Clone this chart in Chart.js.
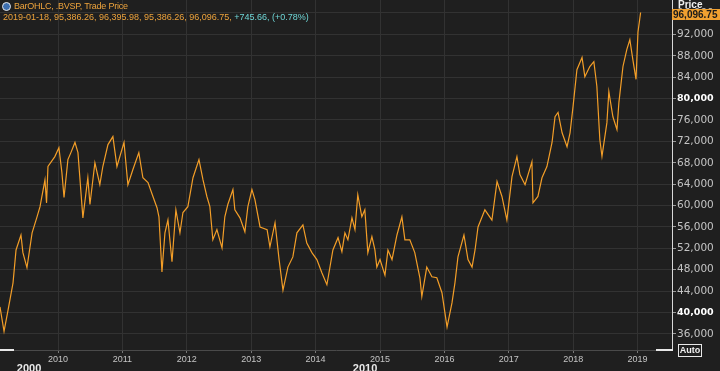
<!DOCTYPE html>
<html>
<head>
<meta charset="utf-8">
<script src="https://cdn.jsdelivr.net/npm/chart.js@4"></script>
<style>
  html, body { margin: 0; padding: 0; background: #1f1f1f; }
  #wrap { position: relative; width: 720px; height: 371px; overflow: hidden; background: #1f1f1f; }
  #wrap canvas { position: absolute; left: 0; top: 0; }
  .hdr { position: absolute; font-family: "Liberation Sans", Arial, sans-serif; font-size: 9px; white-space: nowrap; color: #eda33c; }
  #l1 { left: 14px; top: 1px; letter-spacing: -0.25px; }
  #l2 { left: 3px; top: 12px; }
  #l2 span { color: #6fd6d6; }
  #icon { position: absolute; left: 2px; top: 2px; width: 7px; height: 7px; border: 1px solid #e8e8e8; border-radius: 50%; background: #3d6fb0; }
  #priceLbl { position: absolute; left: 678px; top: -1px; font: bold 10px "Liberation Sans", Arial, sans-serif; color: #f0f0f0; }
  #priceBox { position: absolute; left: 672px; top: 9px; width: 48px; height: 11px; background: #f0a030; font: bold 10px "Liberation Sans", Arial, sans-serif; color: #1a1a1a; line-height: 11px; padding-left: 1px; }
  #auto { position: absolute; left: 678px; top: 344px; width: 22px; height: 11px; border: 1px solid #e8e8e8; font: bold 9px "Liberation Sans", Arial, sans-serif; color: #f0f0f0; line-height: 11px; text-align: center; }
  #scrollL { position: absolute; left: 0; top: 349px; width: 14px; height: 2px; background: #e8e8e8; }
  #scrollR { position: absolute; left: 656px; top: 349px; width: 17px; height: 2px; background: #e8e8e8; }
</style>
</head>
<body>
<div id="wrap">
  <canvas id="chart" width="720" height="371"></canvas>
  <div id="icon"></div>
  <div class="hdr" id="l1">BarOHLC, .BVSP, Trade Price</div>
  <div class="hdr" id="l2">2019-01-18, 95,386.26, 96,395.98, 95,386.26, 96,096.75, <span>+745.66, (+0.78%)</span></div>
  <div id="priceLbl">Price</div>
  <div id="priceBox">96,096.75</div>
  <div id="auto">Auto</div>
  <div id="scrollL"></div>
  <div id="scrollR"></div>
</div>
<script>
// dates and closing values
var dates = [
  "2009-02-06","2009-03-01","2009-03-24","2009-04-21","2009-05-08","2009-06-05","2009-06-16","2009-07-09",
  "2009-08-07","2009-09-04","2009-09-21","2009-10-19","2009-10-28","2009-11-05","2009-12-14","2010-01-06",
  "2010-01-23","2010-02-04","2010-02-26","2010-03-15","2010-04-07","2010-04-24","2010-05-22","2010-06-19",
  "2010-07-01","2010-07-29","2010-08-26","2010-09-12","2010-10-11","2010-11-08","2010-12-01","2011-01-10",
  "2011-02-01","2011-03-01","2011-04-04","2011-04-27","2011-05-26","2011-06-23","2011-07-16","2011-07-27",
  "2011-08-13","2011-08-30","2011-09-16","2011-10-09","2011-10-31","2011-11-23","2011-12-10","2012-01-07",
  "2012-02-05","2012-03-10","2012-04-02","2012-04-24","2012-05-11","2012-05-28","2012-06-20","2012-07-19",
  "2012-08-04","2012-08-21","2012-09-19","2012-09-30","2012-10-29","2012-11-26","2012-12-13","2013-01-05",
  "2013-01-22","2013-02-20","2013-04-01","2013-04-17","2013-05-16","2013-06-08","2013-06-30","2013-07-28",
  "2013-08-25","2013-09-17","2013-10-21","2013-11-12","2013-12-11","2014-01-08","2014-02-06","2014-03-06",
  "2014-04-09","2014-05-08","2014-05-30","2014-06-16","2014-07-03","2014-07-26","2014-08-12","2014-08-28",
  "2014-09-20","2014-10-07","2014-10-24","2014-11-16","2014-12-03","2014-12-14","2015-01-01","2015-01-29",
  "2015-02-15","2015-03-10","2015-04-07","2015-05-05","2015-05-22","2015-06-19","2015-07-17","2015-08-15",
  "2015-08-26","2015-09-23","2015-10-22","2015-11-19","2015-12-18","2016-01-10","2016-01-16","2016-02-13",
  "2016-03-01","2016-03-18","2016-04-21","2016-05-14","2016-06-06","2016-06-23","2016-07-10","2016-08-18",
  "2016-09-27","2016-10-26","2016-11-23","2016-12-21","2017-01-19","2017-02-16","2017-03-05","2017-04-03",
  "2017-05-12","2017-05-18","2017-06-15","2017-07-08","2017-08-05","2017-09-03","2017-09-20","2017-10-07",
  "2017-10-30","2017-11-27","2017-12-14","2017-12-31","2018-01-22","2018-02-20","2018-03-08","2018-04-05",
  "2018-04-28","2018-05-15","2018-06-01","2018-06-13","2018-07-11","2018-07-22","2018-08-14","2018-09-06",
  "2018-09-17","2018-10-10","2018-11-01","2018-11-18","2018-12-05","2018-12-23","2019-01-03","2019-01-18"
];
var prices = [
  41050,36500,40500,45550,51700,54500,51200,48400,
  54900,57900,59800,64800,60500,67300,69150,70800,
  66150,61500,68600,69900,71800,69900,57700,65200,
  60200,68000,63900,67300,71400,72900,67300,71800,
  63900,66700,69900,65200,64300,61700,59600,57900,
  47600,54900,57300,49500,59200,54900,58700,59800,
  65200,68600,64800,61700,59800,53600,55500,52100,
  57900,60200,63000,59200,57700,55100,59800,63000,
  61100,56000,55500,52300,56800,49900,44200,48500,
  50400,54900,56400,53000,51200,49900,47400,45200,
  51700,54000,51400,54900,53600,57700,55500,62000,
  57900,59200,51200,54200,51700,48500,49900,47000,
  51700,49900,54500,57900,53600,53600,51200,46500,
  43000,48500,46700,46500,43700,38600,37300,41800,
  45600,50400,54500,49900,48500,51700,56000,59200,
  57300,64500,61700,57300,65400,69150,65800,63900,
  68200,60500,61700,65200,67300,71800,76600,77400,
  73600,71000,73600,78500,85400,87700,84100,86000,
  86900,82300,72300,69200,75500,81300,76600,74200,
  79300,86000,89200,91000,87300,83600,92400,96096.75
];

var yearTicks = [2010, 2011, 2012, 2013, 2014, 2015, 2016, 2017, 2018, 2019];
var priceTicks = [36000, 40000, 44000, 48000, 52000, 56000, 60000, 64000, 68000, 72000, 76000, 80000, 84000, 88000, 92000, 96000];
var boldTicks = [40000, 80000];
var decades = [2000, 2010];

var xMin = 2009.099, xMax = 2019.534;

//turn a date string into a fractional year
function toYear(s) {
  var p = s.split("-").map(Number);
  var start = Date.UTC(p[0], 0, 1), end = Date.UTC(p[0] + 1, 0, 1);
  return p[0] + (Date.UTC(p[0], p[1] - 1, p[2]) - start) / (end - start);
}

var points = dates.map((d, i) => ({ x: toYear(d), y: prices[i] }));

//decade labels sit in the middle of the visible part of each decade
var decadeTicks = decades.map(d => ({ value: (Math.max(d, xMin) + Math.min(d + 10, xMax)) / 2, label: String(d) }));

//bold labels on the price axis
function isBold(ctx) {
  return !!(ctx && ctx.tick && boldTicks.includes(ctx.tick.value));
}

var gridColor = '#323232';

new Chart(document.getElementById('chart'), {
  type: 'line',
  data: {
    datasets: [{
      data: points,
      borderColor: '#f39e28',
      borderWidth: 1.2,
      pointRadius: 0,
      tension: 0,
      fill: false
    }]
  },
  options: {
    responsive: false,
    animation: false,
    layout: { padding: 0 },
    plugins: { legend: { display: false }, tooltip: { enabled: false } },
    scales: {
      x: {
        type: 'linear',
        position: 'bottom',
        min: xMin,
        max: xMax,
        afterBuildTicks: s => { s.ticks = yearTicks.map(v => ({ value: v })); },
        afterFit: s => { s.height = 12; s.paddingLeft = 0; s.paddingRight = 0; },
        ticks: {
          autoSkip: false,
          maxRotation: 0,
          padding: 1,
          color: '#c4c4c4',
          font: { family: 'Liberation Sans', size: 9 },
          callback: v => String(v)
        },
        grid: { color: gridColor, tickColor: '#777', tickLength: 3 },
        border: { color: '#4a4a4a' }
      },
      x2: {
        type: 'linear',
        position: 'bottom',
        min: xMin,
        max: xMax,
        afterBuildTicks: s => { s.ticks = decadeTicks.map(t => ({ value: t.value })); },
        afterFit: s => { s.height = 9; s.paddingLeft = 0; s.paddingRight = 0; },
        ticks: {
          autoSkip: false,
          maxRotation: 0,
          padding: 0,
          color: '#e8e8e8',
          font: { family: 'Liberation Sans', size: 11, weight: 'bold' },
          callback: v => { var t = decadeTicks.find(d => Math.abs(d.value - v) < 1e-6); return t ? t.label : ''; }
        },
        grid: { drawOnChartArea: false, drawTicks: false },
        border: { display: false }
      },
      y: {
        position: 'right',
        min: 33000,
        max: 98430,
        afterBuildTicks: s => { s.ticks = priceTicks.map(v => ({ value: v })); },
        afterFit: s => { s.width = 48; s.paddingTop = 0; s.paddingBottom = 0; },
        ticks: {
          padding: 1,
          color: ctx => isBold(ctx) ? '#ffffff' : '#c4c4c4',
          font: ctx => ({ family: 'DejaVu Sans', size: isBold(ctx) ? 9.5 : 10.5, weight: isBold(ctx) ? 'bold' : 'normal' }),
          callback: v => v.toLocaleString('en-US')
        },
        grid: { color: gridColor, tickColor: '#9a9a9a', tickLength: 4 },
        border: { color: '#d8d8d8' }
      }
    }
  }
});
</script>
</body>
</html>
